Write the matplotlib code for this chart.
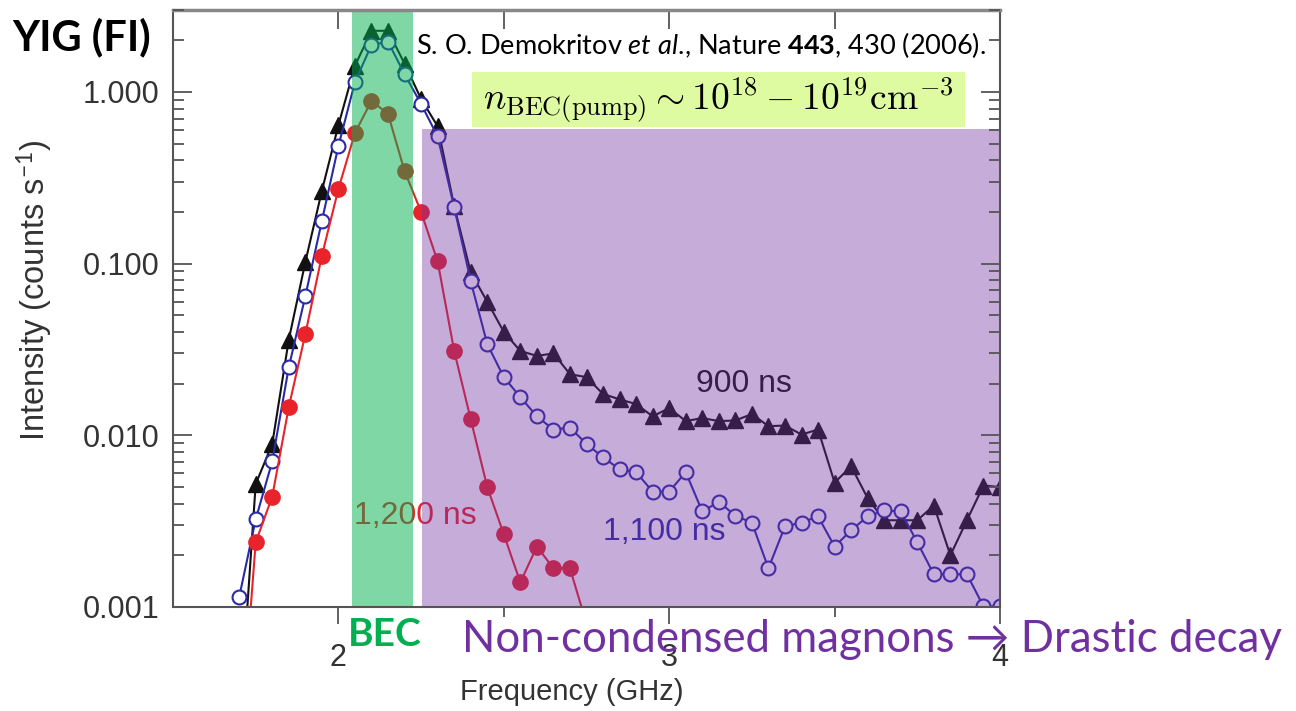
import matplotlib
matplotlib.use('Agg')
import matplotlib.pyplot as plt
from matplotlib.patches import Rectangle

plt.rcParams['font.family'] = ['Liberation Sans', 'DejaVu Sans']
plt.rcParams['mathtext.fontset'] = 'custom'
plt.rcParams['mathtext.rm'] = 'Lato'
plt.rcParams['mathtext.it'] = 'Lato:italic'
plt.rcParams['mathtext.bf'] = 'Lato:bold'

# 900 ns (black triangles)
freq_900 = [1.70, 1.75, 1.80, 1.85, 1.90, 1.95, 2.00, 2.05, 2.10, 2.15, 2.20, 2.25,
            2.30, 2.35, 2.40, 2.45, 2.50, 2.55, 2.60, 2.65, 2.70, 2.75, 2.80, 2.85,
            2.90, 2.95, 3.00, 3.05, 3.10, 3.15, 3.20, 3.25, 3.30, 3.35, 3.40, 3.45,
            3.50, 3.55, 3.60, 3.65, 3.70, 3.75, 3.80, 3.85, 3.90, 3.95, 4.00]
int_900 = [0.0002, 0.0052, 0.0089, 0.036, 0.102, 0.265, 0.64, 1.42, 2.27, 2.27, 1.46, 0.91,
           0.63, 0.216, 0.089, 0.060, 0.040, 0.031, 0.029, 0.030, 0.0227, 0.0218, 0.0174, 0.0162,
           0.0152, 0.0129, 0.0144, 0.0121, 0.0126, 0.0121, 0.0122, 0.0133, 0.0113, 0.0114, 0.0101, 0.0108,
           0.0053, 0.0066, 0.0043, 0.0032, 0.0032, 0.0032, 0.0039, 0.0020, 0.0032, 0.0051, 0.0050]

# 1,100 ns (open blue circles)
freq_1100 = [1.70, 1.75, 1.80, 1.85, 1.90, 1.95, 2.00, 2.05, 2.10, 2.15, 2.20, 2.25,
             2.30, 2.35, 2.40, 2.45, 2.50, 2.55, 2.60, 2.65, 2.70, 2.75, 2.80, 2.85,
             2.90, 2.95, 3.00, 3.05, 3.10, 3.15, 3.20, 3.25, 3.30, 3.35, 3.40, 3.45,
             3.50, 3.55, 3.60, 3.65, 3.70, 3.75, 3.80, 3.85, 3.90, 3.95, 4.00]
int_1100 = [0.00114, 0.00324, 0.00705, 0.0249, 0.0646, 0.177, 0.484, 1.14, 1.88, 1.96, 1.27, 0.85,
            0.55, 0.213, 0.079, 0.034, 0.0218, 0.0167, 0.0129, 0.0108, 0.0111, 0.0089, 0.00745, 0.00634,
            0.0061, 0.0047, 0.0047, 0.0061, 0.0036, 0.0041, 0.0034, 0.0031, 0.00168, 0.00295, 0.0031, 0.00337,
            0.00225, 0.0028, 0.00337, 0.00365, 0.0036, 0.00238, 0.00155, 0.00155, 0.00155, 0.00101, 0.00101]

# 1,200 ns (filled red circles)
freq_1200 = [1.70, 1.75, 1.80, 1.85, 1.90, 1.95, 2.00, 2.05, 2.10, 2.15, 2.20, 2.25,
             2.30, 2.35, 2.40, 2.45, 2.50, 2.55, 2.60, 2.65, 2.70, 2.75]
int_1200 = [0.00013, 0.00238, 0.0044, 0.0146, 0.0388, 0.111, 0.272, 0.577, 0.887, 0.744, 0.346, 0.20,
            0.103, 0.031, 0.0124, 0.0050, 0.00265, 0.00139, 0.00225, 0.00168, 0.00168, 0.0008]

x_major = [2, 3, 4]
x_major_labels = ['2', '3', '4']
x_minor = [2.5, 3.5]
y_major = [0.001, 0.01, 0.1, 1.0]
y_major_labels = ['0.001', '0.010', '0.100', '1.000']

bec_band = (2.04, 2.225)
noncond_band = (2.252, 4.0, 0.001, 0.61)

W, H = 1296, 711
fig = plt.figure(figsize=(W / 100, H / 100), dpi=100)
ax = fig.add_axes([173 / W, 1 - 607 / H, 827 / W, 597 / H])

ax.plot(freq_900, int_900, '-^', color='#111111', lw=1.5, ms=11, zorder=2)
ax.plot(freq_1100, int_1100, '-o', color='#2a2aa8', mfc='white', mec='#2a2aa8', mew=1.5,
        lw=1.5, ms=10, zorder=2)
ax.plot(freq_1200, int_1200, '-o', color='#e8232a', lw=1.5, ms=11, zorder=2)

lab_kw = dict(fontsize=23, ha='center', va='center', zorder=2)
ax.text(3.225, 0.0198, '900 ns', color='#111111', **lab_kw)
ax.text(2.985, 0.00272, '1,100 ns', color='#2a2aa8', **lab_kw)
ax.text(2.233, 0.00337, '1,200 ns', color='#e8232a', **lab_kw)

# shaded regions drawn over the data
ax.axvspan(*bec_band, color='#00b14d', alpha=0.5, lw=0, zorder=3)
ax.fill_between([noncond_band[0], noncond_band[1]], noncond_band[2], noncond_band[3],
                color='#7030a0', alpha=0.4, lw=0, zorder=3)

ax.set_yscale('log')
ax.set_xlim(1.5, 4.0)
ax.set_ylim(0.001, 3.0)

ax.set_xticks(x_major, x_major_labels)
ax.set_xticks(x_minor, minor=True)
ax.set_yticks(y_major, y_major_labels)

gray = '#555555'
txt = '#333333'
ax.tick_params(axis='x', which='major', direction='out', length=12, width=1.3,
               color=gray, labelsize=22, labelcolor=txt, pad=14)
ax.tick_params(axis='x', which='minor', direction='out', length=7, width=1.3, color=gray)
ax.tick_params(axis='y', which='both', direction='in', left=True, right=True,
               color=gray, width=1.3, labelsize=22, labelcolor=txt, pad=10)
ax.tick_params(axis='y', which='major', length=14)
ax.tick_params(axis='y', which='minor', length=8)
ax.xaxis.set_zorder(6)
ax.yaxis.set_zorder(6)
for sp in ax.spines.values():
    sp.set_color(gray)
    sp.set_linewidth(1.5)
    sp.set_zorder(6)
ax.spines['top'].set_color('#888888')
ax.spines['top'].set_linewidth(2.5)

top = ax.secondary_xaxis('top')
top.set_xticks(x_major + x_minor)
top.tick_params(direction='in', length=14, width=1.3, color=gray, labeltop=False)
top.spines['top'].set_visible(False)

ax.set_xlabel('Frequency (GHz)', fontsize=21, color=txt)
ax.xaxis.set_label_coords(0.4825, -0.119)
ax.set_ylabel('Intensity (counts s$^{-1}$)', fontsize=23.5, color=txt)
ax.yaxis.set_label_coords(-0.143, 0.531)

# annotations
fig.text(12 / W, 1 - 37 / H, 'YIG (FI)', fontsize=30, fontweight='bold',
         family=['Lato', 'DejaVu Sans'], ha='left', va='center')
fig.text(416 / W, 1 - 45 / H,
         r'S. O. Demokritov $\mathit{et\ al}$., Nature $\mathbf{443}$, 430 (2006).',
         fontsize=19.5, family=['Lato', 'DejaVu Sans'], math_fontfamily='custom',
         ha='left', va='center', zorder=7)
fig.add_artist(Rectangle((472 / W, 1 - 127 / H), 493 / W, 55 / H,
                         transform=fig.transFigure, facecolor='#dffba2', edgecolor='none', zorder=7))
fig.text(718 / W, 1 - 100 / H,
         r'$n_{\mathrm{BEC(pump)}} \sim 10^{18} - 10^{19}\mathrm{cm}^{-3}$',
         fontsize=27, math_fontfamily='cm', ha='center', va='center', zorder=8)
fig.text(348 / W, 1 - 635 / H, 'BEC', fontsize=28, fontweight='bold', color='#00b050',
         family=['Lato', 'DejaVu Sans'], ha='left', va='center', zorder=8)
fig.text(462 / W, 1 - 640 / H, 'Non-condensed magnons \u2192 Drastic decay', fontsize=31.5,
         color='#7030a0', family=['Lato', 'DejaVu Sans'], ha='left', va='center', zorder=8)

fig.savefig('out.png', dpi=100)
